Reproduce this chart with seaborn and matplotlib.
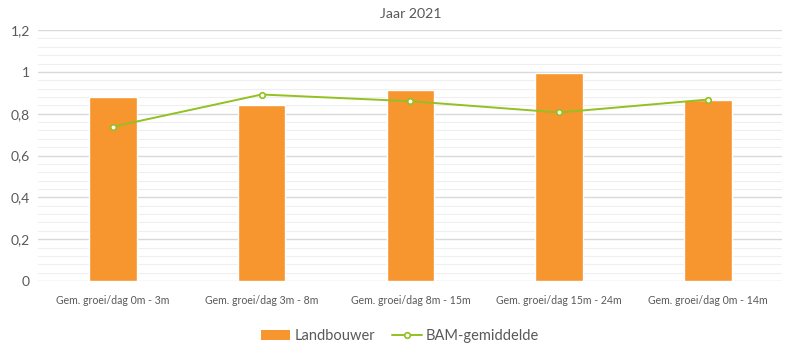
import pandas as pd
import numpy as np
import matplotlib
matplotlib.use('Agg')
import matplotlib.pyplot as plt
from matplotlib.patches import Patch
from matplotlib.lines import Line2D
import seaborn as sns

# Data
categories = ['Gem. groei/dag 0m - 3m', 'Gem. groei/dag 3m - 8m', 'Gem. groei/dag 8m - 15m',
              'Gem. groei/dag 15m - 24m', 'Gem. groei/dag 0m - 14m']
landbouwer = [0.878, 0.841, 0.913, 0.993, 0.865]
bam_gemiddelde = [0.738, 0.892, 0.860, 0.806, 0.868]
y_ticks = [0, 0.2, 0.4, 0.6, 0.8, 1.0, 1.2]
y_tick_labels = ['0', '0,2', '0,4', '0,6', '0,8', '1', '1,2']

bar_color = '#F7952F'
line_color = '#92C121'
text_color = '#595959'

df = pd.DataFrame({'categorie': categories, 'Landbouwer': landbouwer, 'BAM-gemiddelde': bam_gemiddelde})

sns.set_style('white')
plt.rcParams['font.family'] = ['Lato', 'DejaVu Sans']

fig = plt.figure(figsize=(8, 3.5), dpi=100)
ax = fig.add_axes([0.048, 0.197, 0.93, 0.717])

sns.barplot(data=df, x='categorie', y='Landbouwer', color=bar_color, width=0.32,
            saturation=1, ax=ax, zorder=2)
sns.pointplot(data=df, x='categorie', y='BAM-gemiddelde', color=line_color, markers='o',
              markersize=4, linewidth=1.4, markerfacecolor='white', markeredgewidth=1.2,
              ax=ax, zorder=3)

ax.set_ylim(0, 1.2)
ax.set_xlim(-0.5, 4.5)
ax.set_yticks(y_ticks)
ax.set_yticklabels(y_tick_labels)
ax.set_yticks(np.arange(0, 1.2001, 0.04), minor=True)
ax.grid(axis='y', which='major', color='#D9D9D9', linewidth=1, zorder=0)
ax.grid(axis='y', which='minor', color='#EFEFEF', linewidth=0.8, zorder=0)
ax.set_axisbelow(True)
for s in ax.spines.values():
    s.set_visible(False)
ax.tick_params(axis='both', which='both', length=0, colors=text_color)
ax.tick_params(axis='y', labelsize=10, pad=6)
ax.tick_params(axis='x', labelsize=7.6, pad=10)
ax.set_xlabel('')
ax.set_ylabel('')
ax.set_title('Jaar 2021', color=text_color, fontsize=10.2, pad=9)

handles = [Patch(facecolor=bar_color, edgecolor='none'),
           Line2D([0], [0], color=line_color, linewidth=1.4, marker='o', markersize=4,
                  markerfacecolor='white', markeredgewidth=1.2)]
fig.legend(handles, ['Landbouwer', 'BAM-gemiddelde'], loc='center', bbox_to_anchor=(0.5, 0.04),
           ncol=2, frameon=False, fontsize=10.5, labelcolor=text_color, handlelength=2.0,
           handletextpad=0.3, columnspacing=1.2)

plt.savefig('out.png', dpi=100)
plt.close()
